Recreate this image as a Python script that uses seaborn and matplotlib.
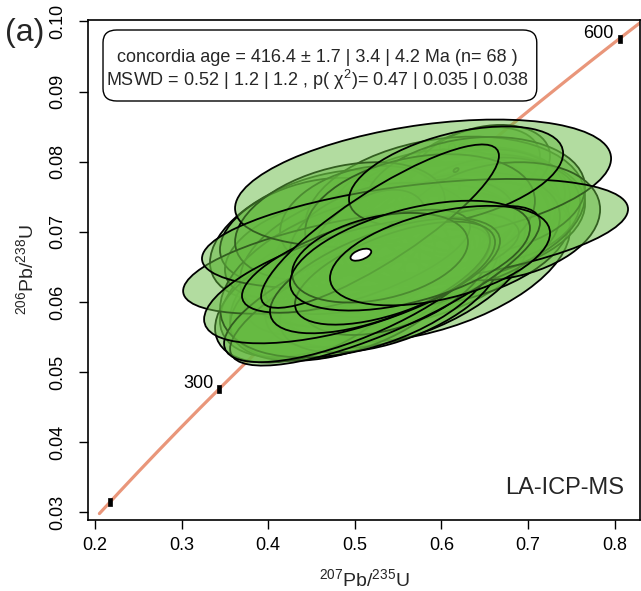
import numpy as np
import pandas as pd
import matplotlib
matplotlib.use("Agg")
import matplotlib.pyplot as plt
import seaborn as sns
from matplotlib.patches import Ellipse, FancyBboxPatch
from matplotlib.path import Path

# Zircon U-Pb analyses: 207Pb/235U, 1s, 206Pb/238U, 1s, error correlation
pb207_u235 = [0.5522, 0.5753, 0.5291, 0.5984, 0.5060, 0.6099, 0.4598, 0.6330, 0.6330, 0.4945,
              0.5868, 0.5637, 0.5522, 0.6215, 0.4829, 0.5464, 0.5753, 0.6446, 0.4598, 0.5349,
              0.5984, 0.4367, 0.6273, 0.5522, 0.5176, 0.5868, 0.4887, 0.6446, 0.6561, 0.5233,
              0.4483, 0.6157, 0.5580, 0.5118, 0.6042, 0.5406, 0.5811, 0.5060, 0.6388, 0.4483,
              0.5060, 0.5926, 0.5291, 0.6677, 0.5464, 0.4829, 0.5753, 0.5141, 0.4887, 0.5176,
              0.4714, 0.6169, 0.5233, 0.4956, 0.5788, 0.5695, 0.5349, 0.6169, 0.5025, 0.4968,
              0.5014, 0.5291, 0.5464, 0.5418, 0.5291, 0.5291, 0.5637, 0.5984]
s_pb207_u235 = [0.0566, 0.0613, 0.0472, 0.0566, 0.0425, 0.0519, 0.0519, 0.0472, 0.0330, 0.0566,
                0.0425, 0.0660, 0.0283, 0.0448, 0.0448, 0.0377, 0.0708, 0.0401, 0.0472, 0.0519,
                0.0613, 0.0354, 0.0566, 0.0613, 0.0495, 0.0472, 0.0542, 0.0330, 0.0425, 0.0448,
                0.0425, 0.0495, 0.0401, 0.0590, 0.0660, 0.0519, 0.0472, 0.0377, 0.0519, 0.0448,
                0.0660, 0.0377, 0.0425, 0.0472, 0.0448, 0.0495, 0.0542, 0.0283, 0.0012, 0.0012,
                0.0012, 0.0012, 0.0519, 0.0792, 0.0887, 0.1005, 0.0731, 0.0505, 0.0627, 0.0698,
                0.0538, 0.0519, 0.0472, 0.0012, 0.0561, 0.0415, 0.0566, 0.0519]
pb206_u238 = [0.0673, 0.0694, 0.0656, 0.0715, 0.0644, 0.0722, 0.0694, 0.0737, 0.0786, 0.0623,
              0.0701, 0.0680, 0.0744, 0.0708, 0.0637, 0.0687, 0.0658, 0.0744, 0.0616, 0.0673,
              0.0687, 0.0673, 0.0722, 0.0644, 0.0630, 0.0737, 0.0609, 0.0789, 0.0730, 0.0680,
              0.0701, 0.0701, 0.0658, 0.0666, 0.0730, 0.0616, 0.0673, 0.0722, 0.0751, 0.0602,
              0.0637, 0.0708, 0.0694, 0.0715, 0.0637, 0.0715, 0.0722, 0.0684, 0.0650, 0.0680,
              0.0666, 0.0788, 0.0656, 0.0657, 0.0769, 0.0697, 0.0623, 0.0779, 0.0612, 0.0631,
              0.0658, 0.0637, 0.0641, 0.0708, 0.0708, 0.0663, 0.0666, 0.0666]
s_pb206_u238 = [0.00387, 0.00432, 0.00344, 0.00344, 0.00328, 0.00387, 0.00387, 0.00344, 0.00259, 0.00432,
                0.00301, 0.00475, 0.00242, 0.00328, 0.00344, 0.00285, 0.00470, 0.00301, 0.00387, 0.00362,
                0.00387, 0.00276, 0.00362, 0.00449, 0.00387, 0.00328, 0.00380, 0.00259, 0.00310, 0.00328,
                0.00310, 0.00344, 0.00301, 0.00415, 0.00432, 0.00360, 0.00344, 0.00294, 0.00344, 0.00362,
                0.00475, 0.00276, 0.00310, 0.00344, 0.00344, 0.00344, 0.00362, 0.00310, 0.00012, 0.00012,
                0.00012, 0.00012, 0.00300, 0.00302, 0.00372, 0.00320, 0.00465, 0.00291, 0.00400, 0.00368,
                0.00300, 0.00334, 0.00300, 0.00012, 0.00476, 0.00261, 0.00320, 0.00290]
rho = [0.35, 0.30, 0.40, 0.25, 0.45, 0.20, 0.40, 0.15, 0.35, 0.45,
       0.30, 0.35, 0.40, 0.25, 0.50, 0.35, 0.40, 0.15, 0.45, 0.35,
       0.30, 0.40, 0.20, 0.45, 0.50, 0.20, 0.45, 0.30, 0.15, 0.35,
       0.35, 0.25, 0.40, 0.35, 0.20, 0.50, 0.35, 0.30, 0.15, 0.45,
       0.40, 0.25, 0.30, 0.20, 0.45, 0.35, 0.25, 0.45, 0.50, 0.50,
       0.50, 0.50, 0.55, 0.56, 0.39, 0.45, 0.79, 0.46, 0.73, 0.62,
       0.67, 0.62, 0.60, 0.50, 0.86, 0.35, 0.50, 0.45]

# Concordia age (weighted) ellipse
age_x, age_sx, age_y, age_sy, age_rho = 0.5070, 0.0049, 0.06673, 0.00035, 0.5

# Concordia curve and age ticks (Ma)
lambda238 = 1.55125e-4
lambda235 = 9.8485e-4
curve_age_min, curve_age_max = 189.4, 620.0
tick_ages = [200, 300, 400, 500, 600]
labelled_ages = [300, 400, 500, 600]

summary_line1 = "concordia age = 416.4 \u00b1 1.7 | 3.4 | 4.2 Ma (n= 68 )"
summary_line2 = r"MSWD = 0.52 | 1.2 | 1.2 , p( χ$^{2}$)= 0.47 | 0.035 | 0.038"

sns.set_theme(style="ticks")
plt.rcParams["font.family"] = ["Liberation Sans", "DejaVu Sans"]
plt.rcParams["mathtext.fontset"] = "custom"
plt.rcParams["mathtext.rm"] = "Liberation Sans"
plt.rcParams["mathtext.it"] = "Liberation Sans:italic"
plt.rcParams["mathtext.bf"] = "Liberation Sans:bold"

fig = plt.figure(figsize=(6.41, 5.91), dpi=100)
ax = fig.add_axes([88 / 641, 71 / 591, 552 / 641, 500 / 591])

# concordia line
t = np.linspace(curve_age_min, curve_age_max, 300)
curve = pd.DataFrame({"x": np.expm1(lambda235 * t), "y": np.expm1(lambda238 * t)})
sns.lineplot(data=curve, x="x", y="y", ax=ax, color="#e9967a", lw=2.3, sort=False, zorder=1)

# age ticks on the concordia
ticks = pd.DataFrame({"age": tick_ages})
ticks["x"] = np.expm1(lambda235 * ticks["age"])
ticks["y"] = np.expm1(lambda238 * ticks["age"])
rect = Path([(-0.55, -1), (0.55, -1), (0.55, 1), (-0.55, 1), (-0.55, -1)],
            [Path.MOVETO, Path.LINETO, Path.LINETO, Path.LINETO, Path.CLOSEPOLY])
sns.scatterplot(data=ticks, x="x", y="y", ax=ax, marker=rect, s=40, color="black",
                edgecolor="black", linewidth=0.5, zorder=2, legend=False)
for _, row in ticks.iterrows():
    if int(row["age"]) in labelled_ages:
        ax.annotate(str(int(row["age"])), (row["x"], row["y"]), xytext=(-4, 4),
                    textcoords="offset points", ha="right", va="center",
                    fontsize=13, color="black", zorder=2)

# error ellipses (95% confidence)
chi2_95 = 5.991
fill = (0.40, 0.73, 0.26, 0.5)
for i, (mx, sx, my, sy, r) in enumerate(zip(pb207_u235, s_pb207_u235, pb206_u238, s_pb206_u238, rho)):
    cov = np.array([[sx * sx, r * sx * sy], [r * sx * sy, sy * sy]])
    vals, vecs = np.linalg.eigh(cov)
    w = 2 * np.sqrt(chi2_95 * vals[1])
    h = 2 * np.sqrt(chi2_95 * vals[0])
    ang = np.degrees(np.arctan2(vecs[1, 1], vecs[0, 1]))
    ax.add_patch(Ellipse((mx, my), w, h, angle=ang, facecolor=fill,
                         edgecolor="black", lw=1.3, zorder=3 + i * 0.01))

cov = np.array([[age_sx ** 2, age_rho * age_sx * age_sy], [age_rho * age_sx * age_sy, age_sy ** 2]])
vals, vecs = np.linalg.eigh(cov)
ax.add_patch(Ellipse((age_x, age_y), 2 * np.sqrt(chi2_95 * vals[1]), 2 * np.sqrt(chi2_95 * vals[0]),
                     angle=np.degrees(np.arctan2(vecs[1, 1], vecs[0, 1])),
                     facecolor="white", edgecolor="black", lw=1.3, zorder=5))

ax.set_xlim(0.1919, 0.8293)
ax.set_ylim(0.0289, 0.1002)
ax.set_xticks([0.2, 0.3, 0.4, 0.5, 0.6, 0.7, 0.8])
ax.set_yticks([0.03, 0.04, 0.05, 0.06, 0.07, 0.08, 0.09, 0.10])
ax.set_xticklabels(["0.2", "0.3", "0.4", "0.5", "0.6", "0.7", "0.8"])
ax.set_yticklabels(["0.03", "0.04", "0.05", "0.06", "0.07", "0.08", "0.09", "0.10"],
                   rotation=90, va="center")
ax.tick_params(axis="both", direction="out", length=6.5, width=1.0, labelsize=13,
               color="black", labelcolor="black")
ax.tick_params(axis="x", pad=6)
ax.tick_params(axis="y", pad=9)
for sp in ax.spines.values():
    sp.set_visible(True)
    sp.set_color("black")
    sp.set_linewidth(1.2)
ax.set_xlabel(r"$^{207}$Pb/$^{235}$U", fontsize=14, labelpad=10)
ax.set_ylabel(r"$^{206}$Pb/$^{238}$U", fontsize=14, labelpad=9)

# summary box
box = FancyBboxPatch((0.0272, 0.838), 0.7858, 0.142, boxstyle="round,pad=0,rounding_size=0.025",
                     transform=ax.transAxes, facecolor="white", edgecolor="black", lw=1.0, zorder=10)
ax.add_patch(box)
ax.text(0.415, 0.924, summary_line1, transform=ax.transAxes, ha="center", va="center",
        fontsize=13, zorder=11)
ax.text(0.415, 0.880, summary_line2, transform=ax.transAxes, ha="center", va="center",
        fontsize=13, zorder=11)

ax.text(0.972, 0.064, "LA-ICP-MS", transform=ax.transAxes, ha="right", va="center",
        fontsize=17, zorder=11)
fig.text(5 / 641, 1 - 33 / 591, "(a)", fontsize=23, ha="left", va="center")

fig.savefig("out.png", dpi=100)
